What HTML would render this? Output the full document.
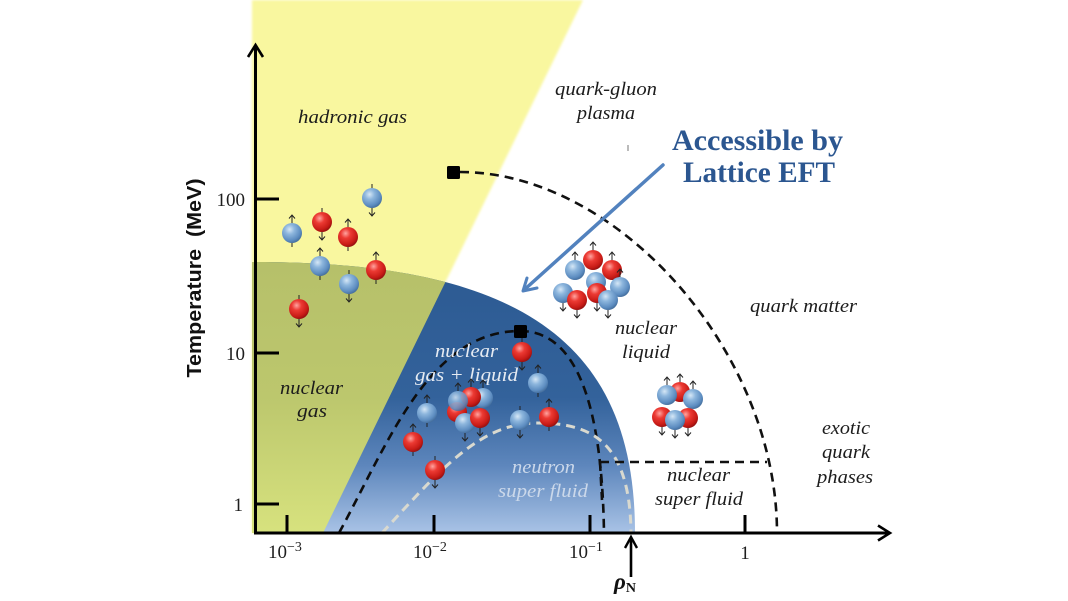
<!DOCTYPE html>
<html>
<head>
<meta charset="utf-8">
<style>
  html,body{margin:0;padding:0;background:#ffffff;}
  svg{display:block;}
  .it{font-family:"Liberation Serif",serif;font-style:italic;font-size:19px;fill:#1c1c1c;}
  .tk{font-family:"Liberation Serif",serif;font-size:19px;fill:#1e1e1e;}
</style>
</head>
<body>
<svg width="1068" height="601" viewBox="0 0 1068 601" xmlns="http://www.w3.org/2000/svg">
  <defs>
    <linearGradient id="blueG" gradientUnits="userSpaceOnUse" x1="0" y1="262" x2="0" y2="533">
      <stop offset="0" stop-color="#2c5a92"/>
      <stop offset="0.5" stop-color="#33629b"/>
      <stop offset="0.75" stop-color="#5d86bc"/>
      <stop offset="1" stop-color="#a9c3e6"/>
    </linearGradient>
    <linearGradient id="greenG" gradientUnits="userSpaceOnUse" x1="0" y1="262" x2="0" y2="533">
      <stop offset="0" stop-color="#b6c06a"/>
      <stop offset="0.5" stop-color="#bcc76d"/>
      <stop offset="1" stop-color="#d7e27e"/>
    </linearGradient>
    <radialGradient id="rG" cx="0.38" cy="0.32" r="0.7">
      <stop offset="0" stop-color="#ffa4a0"/>
      <stop offset="0.35" stop-color="#ec3a33"/>
      <stop offset="0.8" stop-color="#c81b16"/>
      <stop offset="1" stop-color="#961010"/>
    </radialGradient>
    <radialGradient id="bG" cx="0.38" cy="0.32" r="0.7">
      <stop offset="0" stop-color="#d6e7f6"/>
      <stop offset="0.35" stop-color="#8db6dd"/>
      <stop offset="0.8" stop-color="#5c8cc0"/>
      <stop offset="1" stop-color="#456f9e"/>
    </radialGradient>
    <clipPath id="yclip">
      <polygon points="250,0 583,0 323,533 250,533"/>
    </clipPath>
    <filter id="soft" x="-5%" y="-5%" width="110%" height="110%">
      <feGaussianBlur stdDeviation="1.2"/>
    </filter>
  </defs>

  <!-- yellow hadronic region -->
  <polygon points="252,0 583,0 323,533 252,533" fill="#f9f79f" filter="url(#soft)"/>
  <!-- blue dome -->
  <path d="M252,262 L256,262 C521,262 635,343 635,533 L252,533 Z" fill="url(#blueG)"/>
  <!-- green (overlap) -->
  <g clip-path="url(#yclip)">
    <path d="M252,262 L256,262 C521,262 635,343 635,533 L252,533 Z" fill="url(#greenG)"/>
  </g>

  <!-- dashed curves -->
  <path d="M460,172 C618.5,172 777,352.5 777,533" fill="none" stroke="#111" stroke-width="2.6" stroke-dasharray="9 6"/>
  <rect x="447" y="166" width="13" height="13" rx="1.5" fill="#000"/>
  <path d="M339,533 C389,441 430,331 520,331 C575,331 602,400 604,533" fill="none" stroke="#0d0d0d" stroke-width="2.6" stroke-dasharray="9 6"/>
  <rect x="514" y="325" width="13" height="13" rx="1.5" fill="#000"/>
  <path d="M382,533 C440,470 480,423 537,423 C590,423 630,440 631,533" fill="none" stroke="#d9d9cf" stroke-width="3" stroke-dasharray="9 6"/>
  <path d="M600,462 L767,462" fill="none" stroke="#111" stroke-width="2.6" stroke-dasharray="9 6"/>
  <path d="M600,462 L602,500" fill="none" stroke="#111" stroke-width="2.6" stroke-dasharray="9 6"/>

  <!-- blue arrow -->
  <line x1="663" y1="165" x2="524" y2="290" stroke="#5282be" stroke-width="3.5" stroke-linecap="round"/>
  <polyline points="537,288 523,291 527,278" fill="none" stroke="#5282be" stroke-width="3" stroke-linecap="round" stroke-linejoin="round"/>
  <line x1="628" y1="145" x2="628" y2="151" stroke="#777" stroke-width="1"/>

  <!-- axes -->
  <line x1="255.5" y1="534.5" x2="255.5" y2="46" stroke="#000" stroke-width="3"/>
  <polyline points="248,57 255.5,45 263,57" fill="none" stroke="#000" stroke-width="2.6"/>
  <line x1="254" y1="533" x2="888" y2="533" stroke="#000" stroke-width="3"/>
  <polyline points="878,525.5 890,533 878,540.5" fill="none" stroke="#000" stroke-width="2.6"/>

  <!-- y ticks -->
  <line x1="255" y1="199" x2="279" y2="199" stroke="#000" stroke-width="3"/>
  <line x1="255" y1="353" x2="279" y2="353" stroke="#000" stroke-width="3"/>
  <line x1="255" y1="504" x2="279" y2="504" stroke="#000" stroke-width="3"/>
  <!-- x ticks -->
  <line x1="287" y1="533" x2="287" y2="515" stroke="#000" stroke-width="3"/>
  <line x1="434" y1="533" x2="434" y2="515" stroke="#000" stroke-width="3"/>
  <line x1="590" y1="533" x2="590" y2="515" stroke="#000" stroke-width="3"/>
  <line x1="745" y1="533" x2="745" y2="515" stroke="#000" stroke-width="3"/>

  <!-- tick labels -->
  <text class="tk" x="245" y="206" text-anchor="end">100</text>
  <text class="tk" x="245" y="360" text-anchor="end">10</text>
  <text class="tk" x="243" y="511" text-anchor="end">1</text>
  <text class="tk" x="268" y="558">10<tspan font-size="14" dy="-7">−3</tspan></text>
  <text class="tk" x="413" y="558">10<tspan font-size="14" dy="-7">−2</tspan></text>
  <text class="tk" x="569" y="558">10<tspan font-size="14" dy="-7">−1</tspan></text>
  <text class="tk" x="745" y="559" text-anchor="middle">1</text>

  <!-- rho_N -->
  <line x1="631" y1="577" x2="631" y2="539" stroke="#000" stroke-width="2.6"/>
  <polyline points="625,548 631,537 637,548" fill="none" stroke="#000" stroke-width="2.4"/>
  <text x="614" y="589" font-family="Liberation Serif, serif" font-weight="bold" font-style="italic" font-size="23" fill="#111">ρ<tspan font-size="14" font-style="normal" dy="3">N</tspan></text>

  <!-- y-axis title -->
  <text transform="translate(201,278) rotate(-90)" text-anchor="middle" font-family="Liberation Sans, sans-serif" font-weight="bold" font-size="20" fill="#111" textLength="199" lengthAdjust="spacingAndGlyphs">Temperature&#160;&#160;(MeV)</text>

  <!-- region labels -->
  <text class="it" x="298" y="123" textLength="109" lengthAdjust="spacingAndGlyphs">hadronic gas</text>
  <text class="it" x="555" y="95" textLength="102" lengthAdjust="spacingAndGlyphs">quark-gluon</text>
  <text class="it" x="577" y="119" textLength="58" lengthAdjust="spacingAndGlyphs">plasma</text>
  <text class="it" x="750" y="312" textLength="107" lengthAdjust="spacingAndGlyphs">quark matter</text>
  <text class="it" x="615" y="334" textLength="62" lengthAdjust="spacingAndGlyphs">nuclear</text>
  <text class="it" x="622" y="358" textLength="48" lengthAdjust="spacingAndGlyphs">liquid</text>
  <text class="it" x="822" y="434" textLength="48" lengthAdjust="spacingAndGlyphs">exotic</text>
  <text class="it" x="822" y="458" textLength="48" lengthAdjust="spacingAndGlyphs">quark</text>
  <text class="it" x="817" y="483" textLength="56" lengthAdjust="spacingAndGlyphs">phases</text>
  <text class="it" x="667" y="481" textLength="63" lengthAdjust="spacingAndGlyphs">nuclear</text>
  <text class="it" x="655" y="505" textLength="88" lengthAdjust="spacingAndGlyphs">super fluid</text>
  <text class="it" x="280" y="394" textLength="63" lengthAdjust="spacingAndGlyphs">nuclear</text>
  <text class="it" x="297" y="417" textLength="30" lengthAdjust="spacingAndGlyphs">gas</text>
  <text class="it" x="435" y="357" textLength="63" lengthAdjust="spacingAndGlyphs" style="fill:#e6ebf2">nuclear</text>
  <text class="it" x="415" y="381" textLength="103" lengthAdjust="spacingAndGlyphs" style="fill:#e6ebf2">gas + liquid</text>
  <text class="it" x="512" y="473" textLength="63" lengthAdjust="spacingAndGlyphs" style="fill:#cbd8ea">neutron</text>
  <text class="it" x="498" y="497" textLength="90" lengthAdjust="spacingAndGlyphs" style="fill:#cbd8ea">super fluid</text>

  <text x="672" y="150" font-family="Liberation Serif, serif" font-weight="bold" font-size="30" fill="#2b5690" textLength="171" lengthAdjust="spacingAndGlyphs">Accessible by</text>
  <text x="683" y="182" font-family="Liberation Serif, serif" font-weight="bold" font-size="30" fill="#2b5690" textLength="152" lengthAdjust="spacingAndGlyphs">Lattice EFT</text>

  <!-- particles: spin up = arrow above; spin down = arrow below -->
  <g stroke="#222" stroke-width="1" fill="none">
    <!-- hadronic gas -->
    <g transform="translate(372,198)"><path d="M0,-10V-14M0,10V18M-3,14.5L0,18L3,14.5"/><circle r="10" fill="url(#bG)" stroke="none"/></g>
    <g transform="translate(292,233)"><path d="M0,-10V-18M-3,-14.5L0,-18L3,-14.5M0,10V14"/><circle r="10" fill="url(#bG)" stroke="none"/></g>
    <g transform="translate(322,222)"><path d="M0,-10V-14M0,10V18M-3,14.5L0,18L3,14.5"/><circle r="10" fill="url(#rG)" stroke="none"/></g>
    <g transform="translate(348,237)"><path d="M0,-10V-18M-3,-14.5L0,-18L3,-14.5M0,10V14"/><circle r="10" fill="url(#rG)" stroke="none"/></g>
    <g transform="translate(320,266)"><path d="M0,-10V-18M-3,-14.5L0,-18L3,-14.5M0,10V14"/><circle r="10" fill="url(#bG)" stroke="none"/></g>
    <g transform="translate(376,270)"><path d="M0,-10V-18M-3,-14.5L0,-18L3,-14.5M0,10V14"/><circle r="10" fill="url(#rG)" stroke="none"/></g>
    <g transform="translate(349,284)"><path d="M0,-10V-14M0,10V18M-3,14.5L0,18L3,14.5"/><circle r="10" fill="url(#bG)" stroke="none"/></g>
    <g transform="translate(299,309)"><path d="M0,-10V-14M0,10V18M-3,14.5L0,18L3,14.5"/><circle r="10" fill="url(#rG)" stroke="none"/></g>

    <!-- gas + liquid -->
    <g transform="translate(522,352)"><path d="M0,-10V-14M0,10V18M-3,14.5L0,18L3,14.5"/><circle r="10" fill="url(#rG)" stroke="none"/></g>
    <g transform="translate(538,383)"><path d="M0,-10V-18M-3,-14.5L0,-18L3,-14.5M0,10V14"/><circle r="10" fill="url(#bG)" stroke="none"/></g>
    <g transform="translate(427,413)"><path d="M0,-10V-18M-3,-14.5L0,-18L3,-14.5M0,10V14"/><circle r="10" fill="url(#bG)" stroke="none"/></g>
    <g transform="translate(457,412)"><circle r="10" fill="url(#rG)" stroke="none"/></g>
    <g transform="translate(483,398)"><path d="M0,-10V-18M-3,-14.5L0,-18L3,-14.5"/><circle r="10" fill="url(#bG)" stroke="none"/></g>
    <g transform="translate(471,397)"><path d="M0,-10V-18M-3,-14.5L0,-18L3,-14.5"/><circle r="10" fill="url(#rG)" stroke="none"/></g>
    <g transform="translate(458,401)"><path d="M0,-10V-18M-3,-14.5L0,-18L3,-14.5"/><circle r="10" fill="url(#bG)" stroke="none" opacity="0.85"/></g>
    <g transform="translate(465,423)"><path d="M0,10V18M-3,14.5L0,18L3,14.5"/><circle r="10" fill="url(#bG)" stroke="none"/></g>
    <g transform="translate(480,418)"><path d="M0,10V18M-3,14.5L0,18L3,14.5"/><circle r="10" fill="url(#rG)" stroke="none"/></g>
    <g transform="translate(520,420)"><path d="M0,-10V-14M0,10V18M-3,14.5L0,18L3,14.5"/><circle r="10" fill="url(#bG)" stroke="none"/></g>
    <g transform="translate(549,417)"><path d="M0,-10V-18M-3,-14.5L0,-18L3,-14.5M0,10V14"/><circle r="10" fill="url(#rG)" stroke="none"/></g>
    <g transform="translate(413,442)"><path d="M0,-10V-18M-3,-14.5L0,-18L3,-14.5M0,10V14"/><circle r="10" fill="url(#rG)" stroke="none"/></g>
    <g transform="translate(435,470)"><path d="M0,-10V-14M0,10V18M-3,14.5L0,18L3,14.5"/><circle r="10" fill="url(#rG)" stroke="none"/></g>

    <!-- upper liquid cluster -->
    <g transform="translate(593,260)"><path d="M0,-10V-18M-3,-14.5L0,-18L3,-14.5"/><circle r="10" fill="url(#rG)" stroke="none"/></g>
    <g transform="translate(596,282)"><circle r="10" fill="url(#bG)" stroke="none"/></g>
    <g transform="translate(575,270)"><path d="M0,-10V-18M-3,-14.5L0,-18L3,-14.5"/><circle r="10" fill="url(#bG)" stroke="none"/></g>
    <g transform="translate(612,270)"><path d="M0,-10V-18M-3,-14.5L0,-18L3,-14.5"/><circle r="10" fill="url(#rG)" stroke="none"/></g>
    <g transform="translate(620,287)"><path d="M0,-10V-18M-3,-14.5L0,-18L3,-14.5"/><circle r="10" fill="url(#bG)" stroke="none"/></g>
    <g transform="translate(597,293)"><path d="M0,10V18M-3,14.5L0,18L3,14.5"/><circle r="10" fill="url(#rG)" stroke="none"/></g>
    <g transform="translate(563,293)"><path d="M0,10V18M-3,14.5L0,18L3,14.5"/><circle r="10" fill="url(#bG)" stroke="none"/></g>
    <g transform="translate(608,300)"><path d="M0,10V18M-3,14.5L0,18L3,14.5"/><circle r="10" fill="url(#bG)" stroke="none"/></g>
    <g transform="translate(577,300)"><path d="M0,10V18M-3,14.5L0,18L3,14.5"/><circle r="10" fill="url(#rG)" stroke="none"/></g>

    <!-- lower liquid cluster -->
    <g transform="translate(680,392)"><path d="M0,-10V-18M-3,-14.5L0,-18L3,-14.5"/><circle r="10" fill="url(#rG)" stroke="none"/></g>
    <g transform="translate(667,395)"><path d="M0,-10V-18M-3,-14.5L0,-18L3,-14.5"/><circle r="10" fill="url(#bG)" stroke="none"/></g>
    <g transform="translate(693,399)"><path d="M0,-10V-18M-3,-14.5L0,-18L3,-14.5"/><circle r="10" fill="url(#bG)" stroke="none"/></g>
    <g transform="translate(662,417)"><path d="M0,10V18M-3,14.5L0,18L3,14.5"/><circle r="10" fill="url(#rG)" stroke="none"/></g>
    <g transform="translate(688,418)"><path d="M0,10V18M-3,14.5L0,18L3,14.5"/><circle r="10" fill="url(#rG)" stroke="none"/></g>
    <g transform="translate(675,420)"><path d="M0,10V18M-3,14.5L0,18L3,14.5"/><circle r="10" fill="url(#bG)" stroke="none"/></g>
  </g>
</svg>
</body>
</html>
